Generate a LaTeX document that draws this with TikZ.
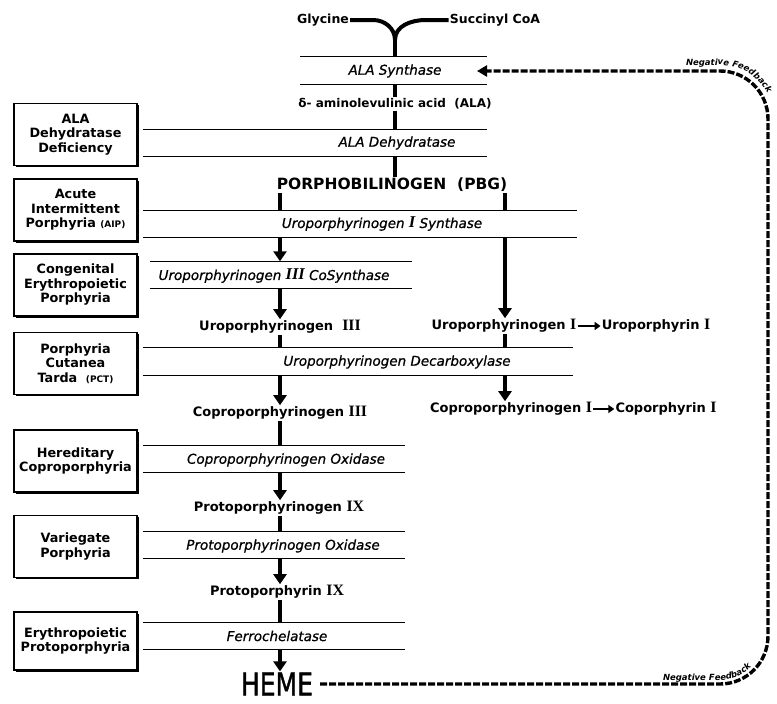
\documentclass[tikz,border=0pt]{standalone}
\usepackage{fontspec}
\setmainfont{DejaVu Sans}
\newfontfamily\romfont[Scale=1.22]{Liberation Serif}
\newfontfamily\enzfont[FakeBold=0.8]{DejaVu Sans}
\newfontfamily\hemefont[FakeBold=1.6]{DejaVu Sans}
\usetikzlibrary{arrows.meta, shadows, decorations.text}

\newcommand{\rnum}[1]{{\romfont\bfseries #1}}
\newcommand{\fbfont}{\bfseries\itshape\fontsize{8.5}{8.5}\selectfont}

\tikzstyle{metab} = [inner sep=1pt,
  font=\bfseries\fontsize{13}{15}\selectfont]
\tikzstyle{enzyme} = [inner sep=1pt,
  font=\enzfont\itshape\fontsize{13.5}{15}\selectfont]
\tikzstyle{bandline} = [line width=1.3pt]
\tikzstyle{band} = [minimum height=27pt, inner sep=0pt,
  append after command={
    (\tikzlastnode.north west) edge[bandline] (\tikzlastnode.north east)
    (\tikzlastnode.south west) edge[bandline] (\tikzlastnode.south east)}]
\tikzstyle{disease} = [rectangle, draw=black, line width=1.5pt, fill=white,
  minimum width=123pt, minimum height=62pt,
  text width=120pt, align=center, inner sep=0pt,
  font=\bfseries\fontsize{12.8}{14.5}\selectfont,
  drop shadow={shadow xshift=1.6pt, shadow yshift=-1.6pt,
    fill=black, opacity=1}]
\tikzstyle{stem} = [line width=4pt]
\tikzstyle{arrow} = [line width=4pt, -{Triangle[width=13pt,length=10pt]}]
\tikzstyle{smallarrow} = [line width=2.5pt, -{Triangle[width=8pt,length=6pt]}]
\tikzstyle{feedback} = [line width=3.4pt, dash pattern=on 7pt off 2pt,
  rounded corners=48pt, -{Triangle[width=11pt,length=10pt]}]

\begin{document}
\begin{tikzpicture}[x=1pt, y=1pt]
\useasboundingbox (0, 0) rectangle (777, -704);

%% ---- COLUMNS ----
\coordinate (tcol) at (395, 0);
\coordinate (lcol) at (280, 0);
\coordinate (rcol) at (505, 0);

%% ---- PRECURSORS ----
\node (gly) [metab, font=\bfseries\fontsize{12.5}{15}\selectfont] at (323, -20) {Glycine};
\node (suc) [metab, font=\bfseries\fontsize{12.5}{15}\selectfont] at (495, -20) {Succinyl CoA};
\coordinate (yjoin) at (395, -40);

%%=============================================================
%% ENZYME BANDS (two rules with the enzyme name between)
%%=============================================================
\node (alas)   [band, minimum width=187pt] at (393.5, -70.5) {};
\node (alad)   [band, minimum width=344pt] at (315,   -143)  {};
\node (syn1)   [band, minimum width=434pt] at (360,   -224)  {};
\node (cosyn)  [band, minimum width=262pt] at (281,   -275)  {};
\node (decarb) [band, minimum width=430pt] at (358,   -361.5){};
\node (coprox) [band, minimum width=262pt] at (274,   -459)  {};
\node (protox) [band, minimum width=262pt] at (274,   -545)  {};
\node (ferro)  [band, minimum width=262pt] at (274,   -636)  {};

\node (t_alas)   [enzyme] at (395, -71)  {ALA Synthase};
\node (t_alad)   [enzyme] at (397, -143) {ALA Dehydratase};
\node (t_syn1)   [enzyme] at (382, -224) {Uroporphyrinogen \rnum{I} Synthase};
\node (t_cosyn)  [enzyme] at (274, -276) {Uroporphyrinogen \rnum{III} CoSynthase};
\node (t_decarb) [enzyme] at (397, -362) {Uroporphyrinogen Decarboxylase};
\node (t_coprox) [enzyme] at (286, -460) {Coproporphyrinogen Oxidase};
\node (t_protox) [enzyme] at (283, -546) {Protoporphyrinogen Oxidase};
\node (t_ferro)  [enzyme] at (277, -636) {Ferrochelatase};

%%=============================================================
%% INTERMEDIATES
%%=============================================================
\node (ala) [metab, font=\bfseries\fontsize{12}{14}\selectfont] at (395, -104)
  {δ- aminolevulinic acid \ (ALA)};
\node (pbg) [metab, font=\bfseries\fontsize{15.5}{17}\selectfont] at (392, -185)
  {PORPHOBILINOGEN \ (PBG)};

\node (uro3)    [metab] at (280, -327) {Uroporphyrinogen \ \rnum{III}};
\node (uro1)    [metab] at (504, -326) {Uroporphyrinogen \rnum{I}};
\node (urop1)   [metab] at (656, -326) {Uroporphyrin \rnum{I}};
\node (copro3)  [metab] at (280, -413) {Coproporphyrinogen \rnum{III}};
\node (copro1)  [metab] at (511, -409) {Coproporphyrinogen \rnum{I}};
\node (coprp1)  [metab] at (666, -409) {Coporphyrin \rnum{I}};
\node (proto9g) [metab] at (279, -508) {Protoporphyrinogen \rnum{IX}};
\node (proto9)  [metab] at (277, -592) {Protoporphyrin \rnum{IX}};
\node (heme)    [inner sep=1pt] at (277, -684)
  {\scalebox{1}[1.25]{\hemefont\fontsize{25}{25}\selectfont HEME}};

%%=============================================================
%% DISEASES
%%=============================================================
\node (dx_alad) [disease] at (75.5, -134.5) {ALA\\Dehydratase\\Deficiency};
\node (dx_aip)  [disease] at (75.5, -210)
  {Acute\\Intermittent\\Porphyria {\fontsize{9}{9}\selectfont(AIP)}};
\node (dx_cep)  [disease] at (75.5, -285) {Congenital\\Erythropoietic\\Porphyria};
\node (dx_pct)  [disease] at (75.5, -363.5)
  {Porphyria\\Cutanea\\Tarda \ {\fontsize{9}{9}\selectfont(PCT)}};
\node (dx_hcp)  [disease] at (75.5, -461) {Hereditary\\Coproporphyria};
\node (dx_vp)   [disease] at (75.5, -546.5) {Variegate\\Porphyria};
\node (dx_epp)  [disease, minimum height=58pt] at (75.5, -641)
  {Erythropoietic\\Protoporphyria};

%%=============================================================
%% PATHWAY
%%=============================================================
\draw[stem] (gly.east) -- ++(23, 0) to[out=0, in=90] (yjoin);
\draw[stem] (suc.west) -- ++(-23, 0) to[out=180, in=90] (yjoin);
\draw[stem] (yjoin) -- (alas.north -| yjoin);

\draw[stem] (alas.south -| tcol) -- (ala.north -| tcol);
\draw[stem] (ala.south -| tcol)  -- (alad.north -| tcol);
\draw[stem] (alad.south -| tcol) -- (pbg.north -| tcol);

\draw[stem]  (pbg.south -| lcol)   -- (syn1.north -| lcol);
\draw[stem]  (pbg.south -| rcol)   -- (syn1.north -| rcol);
\draw[arrow] (syn1.south -| lcol)  -- (cosyn.north -| lcol);
\draw[arrow] (syn1.south -| rcol)  -- (uro1.north -| rcol);
\draw[arrow] (cosyn.south -| lcol) -- (uro3.north -| lcol);

\draw[stem]  (uro3.south -| lcol)   -- (decarb.north -| lcol);
\draw[stem]  (uro1.south -| rcol)   -- (decarb.north -| rcol);
\draw[arrow] (decarb.south -| lcol) -- (copro3.north -| lcol);
\draw[arrow] (decarb.south -| rcol) -- (copro1.north -| rcol);

\draw[smallarrow] (uro1)   -- (urop1);
\draw[smallarrow] (copro1) -- (coprp1);

\draw[stem]  (copro3.south -| lcol)  -- (coprox.north -| lcol);
\draw[arrow] (coprox.south -| lcol)  -- (proto9g.north -| lcol);
\draw[stem]  (proto9g.south -| lcol) -- (protox.north -| lcol);
\draw[arrow] (protox.south -| lcol)  -- (proto9.north -| lcol);
\draw[stem]  (proto9.south -| lcol)  -- (ferro.north -| lcol);
\draw[arrow] (ferro.south -| lcol)   -- (heme.north -| lcol);

%%=============================================================
%% NEGATIVE FEEDBACK
%%=============================================================
\coordinate (fbturn) at (768, -71);
\coordinate (fbtip)  at (477, -71);
\draw[feedback] ([xshift=6pt]heme.east) -| (fbturn) -- (fbtip);

\path[decorate, decoration={text along path,
    text={|\fbfont|Negative Feedback}, text align={left indent=2pt}}]
  (684, -65) -- (720, -65) arc[start angle=90, end angle=0, radius=54];
\path[decorate, decoration={text along path,
    text={|\fbfont|Negative Feedback}, text align={left indent=1pt}}]
  (662, -680) -- (720, -680) arc[start angle=270, end angle=360, radius=44];

\end{tikzpicture}
\end{document}
